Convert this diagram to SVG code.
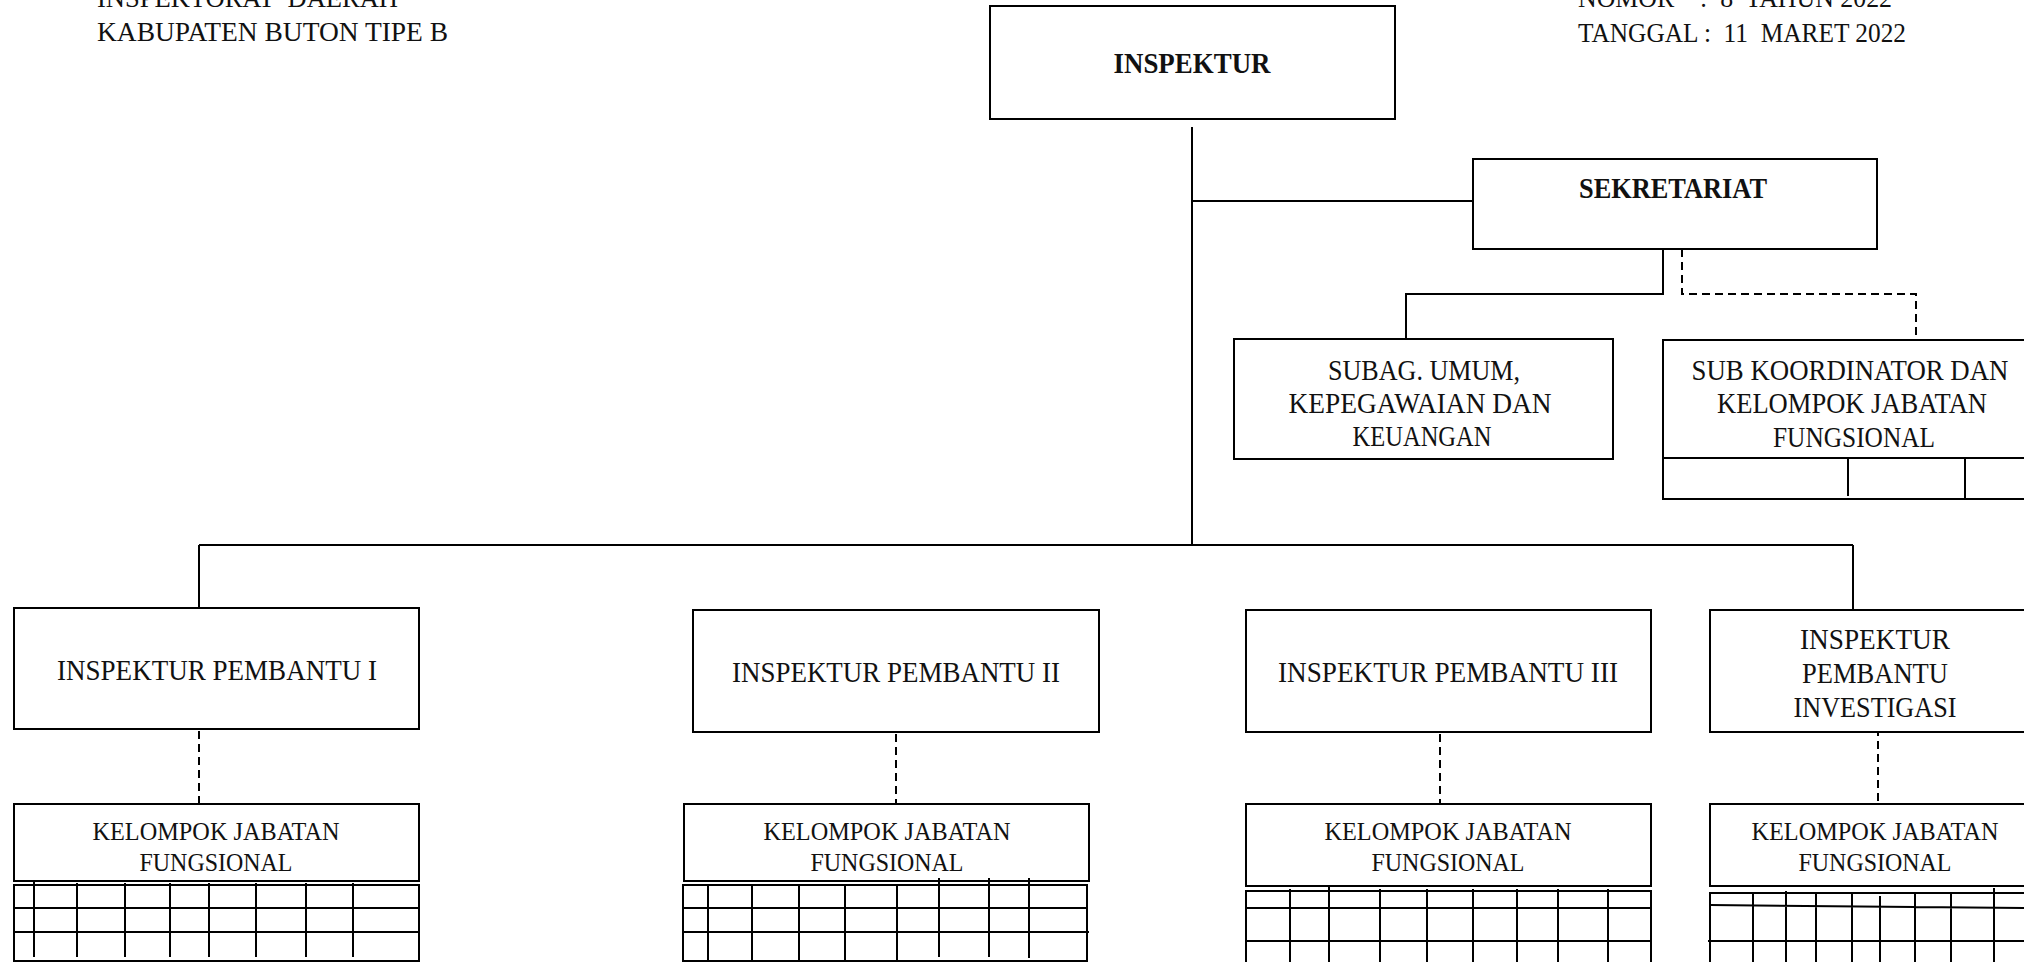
<svg xmlns="http://www.w3.org/2000/svg" width="2024" height="962" viewBox="0 0 2024 962">
<style>
.bx{fill:#fff;stroke:#000;stroke-width:2}
.ln{fill:none;stroke:#000;stroke-width:2}
.ds{fill:none;stroke:#000;stroke-width:2;stroke-dasharray:8 5}
.t{font-family:"Liberation Serif","Times New Roman",serif;fill:#111;text-anchor:middle}
.big{font-size:30px}
.mid{font-size:29px}
.sm{font-size:26px}
.b{font-weight:bold}
.hd{font-family:"Liberation Serif","Times New Roman",serif;fill:#111;font-size:28px}
</style>
<rect width="2024" height="962" fill="#fff"/>
<g id="header-left">
<text class="hd" x="97" y="7" textLength="301" lengthAdjust="spacingAndGlyphs" xml:space="preserve">INSPEKTORAT  DAERAH</text>
<text class="hd" x="97" y="41" textLength="351" lengthAdjust="spacingAndGlyphs">KABUPATEN BUTON TIPE B</text>
</g>
<g id="header-right">
<text class="hd" x="1578" y="7" textLength="314" lengthAdjust="spacingAndGlyphs" xml:space="preserve">NOMOR    :  8  TAHUN 2022</text>
<text class="hd" x="1578" y="42" textLength="328" lengthAdjust="spacingAndGlyphs" xml:space="preserve">TANGGAL :  11  MARET 2022</text>
</g>
<g id="connectors">
<line class="ln" x1="1192" y1="127" x2="1192" y2="545"/>
<line class="ln" x1="1192" y1="201" x2="1473" y2="201"/>
<line class="ln" x1="199" y1="545" x2="1853" y2="545"/>
<line class="ln" x1="199" y1="545" x2="199" y2="608"/>
<line class="ln" x1="1853" y1="545" x2="1853" y2="610"/>
<polyline class="ln" points="1663,249 1663,294 1406,294 1406,339"/>
<polyline class="ds" points="1682,249 1682,294 1916,294 1916,340"/>
<line class="ds" x1="199" y1="731" x2="199" y2="804"/>
<line class="ds" x1="896" y1="734" x2="896" y2="806"/>
<line class="ds" x1="1440" y1="734" x2="1440" y2="806"/>
<line class="ds" x1="1878" y1="728" x2="1878" y2="803"/>
</g>
<g id="inspektur">
<rect class="bx" x="990" y="6" width="405" height="113"/>
<text class="t big b" x="1192" y="73" textLength="157" lengthAdjust="spacingAndGlyphs">INSPEKTUR</text>
</g>
<g id="sekretariat">
<rect class="bx" x="1473" y="159" width="404" height="90"/>
<text class="t big b" x="1673" y="198" textLength="188" lengthAdjust="spacingAndGlyphs">SEKRETARIAT</text>
</g>
<g id="subag">
<rect class="bx" x="1234" y="339" width="379" height="120"/>
<text class="t big" x="1424" y="380" textLength="192" lengthAdjust="spacingAndGlyphs">SUBAG. UMUM,</text>
<text class="t big" x="1420" y="413" textLength="263" lengthAdjust="spacingAndGlyphs">KEPEGAWAIAN DAN</text>
<text class="t big" x="1422" y="446" textLength="139" lengthAdjust="spacingAndGlyphs">KEUANGAN</text>
</g>
<g id="subkoordinator">
<rect class="bx" x="1663" y="340" width="380" height="159"/>
<line class="ln" x1="1663" y1="458" x2="2030" y2="458"/>
<line class="ln" x1="1848" y1="458" x2="1848" y2="496"/>
<line class="ln" x1="1965" y1="458" x2="1965" y2="499"/>
<text class="t mid" x="1850" y="380" textLength="317" lengthAdjust="spacingAndGlyphs">SUB KOORDINATOR DAN</text>
<text class="t big" x="1852" y="413" textLength="270" lengthAdjust="spacingAndGlyphs">KELOMPOK JABATAN</text>
<text class="t big" x="1854" y="447" textLength="162" lengthAdjust="spacingAndGlyphs">FUNGSIONAL</text>
</g>
<g id="ip1">
<rect class="bx" x="14" y="608" width="405" height="121"/>
<text class="t big" x="217" y="680" textLength="320" lengthAdjust="spacingAndGlyphs">INSPEKTUR PEMBANTU I</text>
</g>
<g id="kjf1">
<rect class="bx" x="14" y="804" width="405" height="77"/>
<text class="t sm" x="216" y="840" textLength="247" lengthAdjust="spacingAndGlyphs">KELOMPOK JABATAN</text>
<text class="t sm" x="216" y="871" textLength="153" lengthAdjust="spacingAndGlyphs">FUNGSIONAL</text>
<rect class="bx" x="14" y="885" width="405" height="76"/>
<path class="ln" d="M14 908H419M14 932H419M34 881V957M77 883V957M125 883V957M170 883V957M209 883V957M256 883V957M306 883V957M353 883V957"/>
</g>
<g id="ip2">
<rect class="bx" x="693" y="610" width="406" height="122"/>
<text class="t big" x="896" y="682" textLength="328" lengthAdjust="spacingAndGlyphs">INSPEKTUR PEMBANTU II</text>
</g>
<g id="kjf2">
<rect class="bx" x="684" y="804" width="405" height="77"/>
<text class="t sm" x="887" y="840" textLength="247" lengthAdjust="spacingAndGlyphs">KELOMPOK JABATAN</text>
<text class="t sm" x="887" y="871" textLength="153" lengthAdjust="spacingAndGlyphs">FUNGSIONAL</text>
<rect class="bx" x="683" y="885" width="404" height="76"/>
<path class="ln" d="M683 908H1087M683 932H1089M708 884V961M752 884V961M799 884V961M845 884V961M897 884V961M939 878V957M989 878V957M1029 878V958"/>
</g>
<g id="ip3">
<rect class="bx" x="1246" y="610" width="405" height="122"/>
<text class="t big" x="1448" y="682" textLength="340" lengthAdjust="spacingAndGlyphs">INSPEKTUR PEMBANTU III</text>
</g>
<g id="kjf3">
<rect class="bx" x="1246" y="804" width="405" height="82"/>
<text class="t sm" x="1448" y="840" textLength="247" lengthAdjust="spacingAndGlyphs">KELOMPOK JABATAN</text>
<text class="t sm" x="1448" y="871" textLength="153" lengthAdjust="spacingAndGlyphs">FUNGSIONAL</text>
<rect class="bx" x="1246" y="891" width="405" height="75"/>
<path class="ln" d="M1246 908H1651M1246 941H1651M1290 889V962M1329 886V962M1380 889V962M1427 889V962M1473 889V962M1517 889V962M1558 889V962M1608 889V962"/>
</g>
<g id="ipinv">
<rect class="bx" x="1710" y="610" width="330" height="122"/>
<text class="t big" x="1875" y="649" textLength="150" lengthAdjust="spacingAndGlyphs">INSPEKTUR</text>
<text class="t big" x="1875" y="683" textLength="146" lengthAdjust="spacingAndGlyphs">PEMBANTU</text>
<text class="t big" x="1875" y="717" textLength="163" lengthAdjust="spacingAndGlyphs">INVESTIGASI</text>
</g>
<g id="kjfinv">
<rect class="bx" x="1710" y="804" width="330" height="82"/>
<text class="t sm" x="1875" y="840" textLength="247" lengthAdjust="spacingAndGlyphs">KELOMPOK JABATAN</text>
<text class="t sm" x="1875" y="871" textLength="153" lengthAdjust="spacingAndGlyphs">FUNGSIONAL</text>
<rect class="bx" x="1710" y="893" width="330" height="75"/>
<path class="ln" d="M1710 905L2030 908M1708 941H2030M1753 893V962M1786 891V962M1816 893V962M1852 893V962M1880 896V962M1915 893V962M1951 893V962M1994 888V962"/>
</g>
</svg>
